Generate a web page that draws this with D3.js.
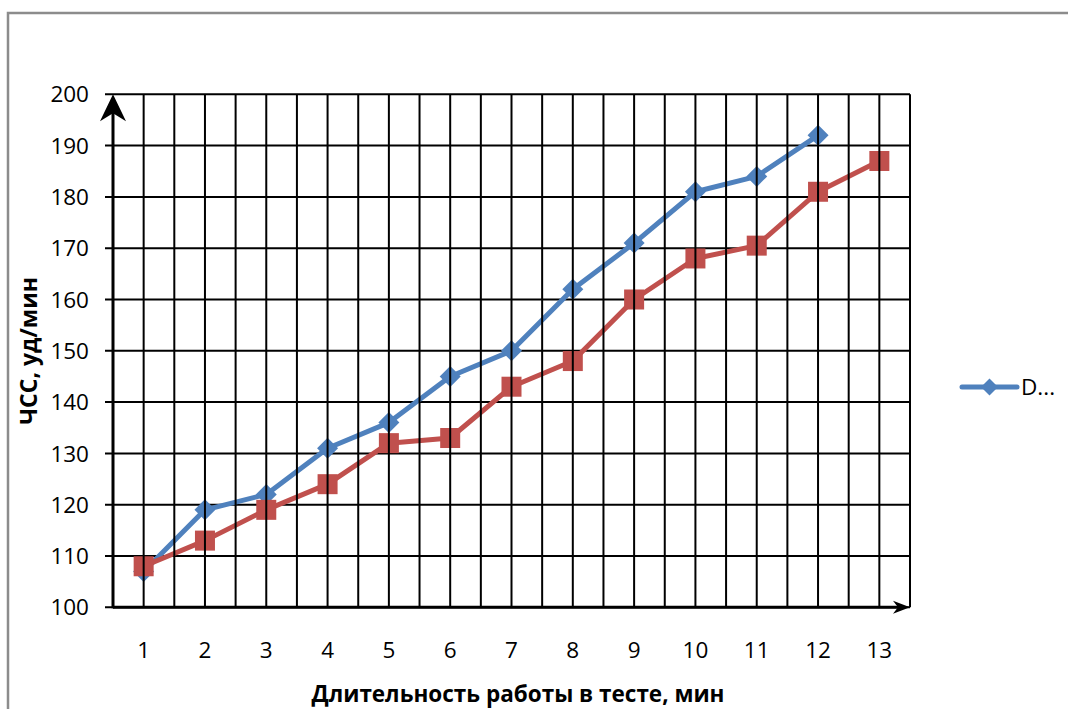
<!DOCTYPE html>
<html><head><meta charset="utf-8">
<script src="https://cdn.jsdelivr.net/npm/d3@7"></script>
<style>
html,body{margin:0;padding:0;background:#fff;}
svg{display:block;}
text{font-family:"Open Sans",sans-serif;fill:#000;}
</style></head>
<body>
<script>
const categories = ["1","2","3","4","5","6","7","8","9","10","11","12","13"];
const seriesBlue = [107,119,122,131,136,145,150,162,171,181,184,192,null];
const seriesRed  = [108,113,119,124,132,133,143,148,160,168,170.5,181,187];
const yTicks = [100,110,120,130,140,150,160,170,180,190,200];
const legendLabel = "D...";
const xTitle = "Длительность работы в тесте, мин";
const yTitle = "ЧСС, уд/мин";

const W = 1068, H = 709;
const L = 113, R = 910, T = 94.3, B = 607.3;
const svg = d3.select("body").append("svg").attr("width", W).attr("height", H);

// outer frame
svg.append("rect").attr("x", 8).attr("y", 13).attr("width", 1100).attr("height", 800)
  .attr("fill", "#fff").attr("stroke", "#8c8c8c").attr("stroke-width", 2.5);

const x = d3.scaleBand().domain(categories).range([L, R]).padding(0);
const y = d3.scaleLinear().domain([100, 200]).range([B, T]);
const bw = x.bandwidth();

// horizontal gridlines (+ tick marks to the left)
svg.append("g").selectAll("line").data(yTicks).join("line")
  .attr("x1", L - 8).attr("x2", R).attr("y1", d => y(d)).attr("y2", d => y(d))
  .attr("stroke", "#000").attr("stroke-width", 2);

// y tick labels
svg.append("g").selectAll("text").data(yTicks).join("text")
  .attr("x", L - 24).attr("y", d => y(d)).attr("dy", "0.36em")
  .attr("text-anchor", "end").attr("font-size", 22.5).text(d => d);

// x tick labels
svg.append("g").selectAll("text").data(categories).join("text")
  .attr("x", d => x(d) + bw / 2).attr("y", 650).attr("dy", "0.36em")
  .attr("text-anchor", "middle").attr("font-size", 22.5).text(d => d);

// series
const line = d3.line().defined(d => d.v != null).x(d => x(d.c) + bw / 2).y(d => y(d.v));
const blueData = categories.map((c, i) => ({c, v: seriesBlue[i]}));
const redData = categories.map((c, i) => ({c, v: seriesRed[i]}));
const blue = "#4F81BD", red = "#C0504D";

svg.append("path").datum(blueData).attr("d", line).attr("fill", "none")
  .attr("stroke", blue).attr("stroke-width", 5).attr("stroke-linejoin", "round");
svg.append("g").selectAll("path").data(blueData.filter(d => d.v != null)).join("path")
  .attr("transform", d => `translate(${x(d.c) + bw / 2},${y(d.v)})`)
  .attr("d", "M0,-10.5L10.5,0L0,10.5L-10.5,0Z").attr("fill", blue);

svg.append("path").datum(redData).attr("d", line).attr("fill", "none")
  .attr("stroke", red).attr("stroke-width", 5).attr("stroke-linejoin", "round");
svg.append("g").selectAll("rect").data(redData).join("rect")
  .attr("x", d => x(d.c) + bw / 2 - 10).attr("y", d => y(d.v) - 10)
  .attr("width", 20).attr("height", 20).attr("fill", red);

// vertical gridlines (drawn on top)
const vx = [];
categories.forEach(c => { vx.push(x(c)); vx.push(x(c) + bw / 2); });
vx.push(R);
svg.append("g").selectAll("line").data(vx.slice(1)).join("line")
  .attr("x1", d => d).attr("x2", d => d).attr("y1", T).attr("y2", B)
  .attr("stroke", "#000").attr("stroke-width", 2);

// axes with arrows
svg.append("line").attr("x1", L).attr("x2", L).attr("y1", B + 1).attr("y2", T + 8)
  .attr("stroke", "#000").attr("stroke-width", 3);
svg.append("path").attr("d", `M${L},${T}L${L + 13},${T + 27}L${L},${T + 19}L${L - 13},${T + 27}Z`).attr("fill", "#000");
svg.append("line").attr("x1", L).attr("x2", R - 6).attr("y1", B).attr("y2", B)
  .attr("stroke", "#000").attr("stroke-width", 3);
svg.append("path").attr("d", `M${R},${B}L${R - 17},${B + 6.5}L${R - 12},${B}L${R - 17},${B - 6.5}Z`).attr("fill", "#000");

// axis titles
svg.append("text").attr("x", 518).attr("y", 702)
  .attr("text-anchor", "middle").attr("font-size", 22.5).attr("font-weight", "bold").text(xTitle);
svg.append("text").attr("transform", `translate(37,${(T + B) / 2}) rotate(-90)`)
  .attr("text-anchor", "middle").attr("font-size", 23).attr("font-weight", "bold").text(yTitle);

// legend
const lg = svg.append("g").attr("transform", "translate(962,387)");
lg.append("line").attr("x1", 0).attr("x2", 55).attr("y1", 0).attr("y2", 0)
  .attr("stroke", blue).attr("stroke-width", 5).attr("stroke-linecap", "round");
lg.append("path").attr("transform", "translate(27.5,0)").attr("d", "M0,-8.5L8.5,0L0,8.5L-8.5,0Z").attr("fill", blue);
lg.append("text").attr("x", 59).attr("y", 0).attr("dy", "0.36em").attr("font-size", 22.5).text(legendLabel);
</script>
</body></html>
